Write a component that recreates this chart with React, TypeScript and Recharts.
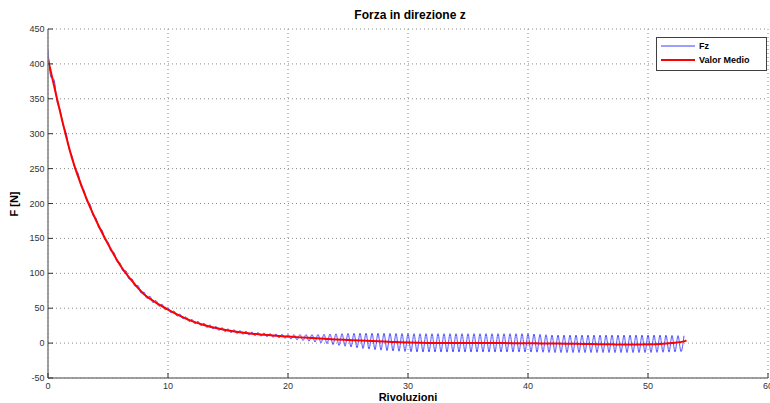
import React from 'react';
import { LineChart, Line, XAxis, YAxis, CartesianGrid } from 'recharts';

// Red "Valor Medio" curve, read at each revolution
const meanRev = [0, 1, 2, 3, 4, 5, 6, 7, 8, 9, 10, 11, 12, 13, 14, 15, 16, 17, 18, 19, 20, 21, 22, 23, 24, 25, 26, 27, 28, 29, 30, 31, 32, 33, 34, 35, 36, 37, 38, 39, 40, 41, 42, 43, 44, 45, 46, 47, 48, 49, 50, 51, 52, 53, 53.2];
const valorMedio = [407, 332, 265, 216, 176, 142, 112, 89, 70, 58, 48, 39, 31.5, 26, 21.5, 18, 15.5, 13.5, 12, 10.5, 9.3, 8.2, 7.2, 6.2, 5.3, 4.5, 3.7, 3, 2.2, 1.5, 0.8, 0.4, 0.2, 0, 0, 0, 0, 0, 0, -0.1, -0.2, -0.4, -0.6, -0.8, -1, -1.3, -1.6, -1.8, -2, -2, -1.8, -1.2, 0.2, 2.5, 4];

// Blue "Fz" oscillation: crest and trough levels read per revolution (0..53)
const fzUpper = [420, 335, 268, 219, 179, 145, 115, 92, 73, 61, 50.5, 41.5, 34, 28.5, 24, 20.5, 18, 16, 14.5, 13, 12.3, 12.2, 12.2, 12.7, 13.3, 13.7, 14, 14, 14, 13.8, 13.6, 13.5, 13.5, 13.5, 13.5, 13.5, 13.5, 13.5, 13.5, 13.5, 13.5, 12.5, 11.5, 11.5, 11.5, 11.5, 11.5, 11.5, 11.5, 11.5, 11.5, 11.5, 11, 10.5];
const fzLower = [398, 329, 262, 213, 173, 139, 109, 86, 67, 55, 45.5, 36.5, 29, 23.5, 19, 15.5, 13, 11, 9.5, 8, 6.3, 4.2, 2.2, -0.3, -2.7, -5, -7.3, -9, -10.5, -11.5, -12.2, -12.8, -12.8, -12.8, -12.8, -12.8, -12.8, -12.8, -12.8, -12.8, -12.8, -13, -13.5, -13.5, -13.5, -13.5, -13.5, -13.5, -13.5, -13.5, -13.5, -13.2, -12.8, -12];
const cyclesPerRev = 2;

const xTicks = [0, 10, 20, 30, 40, 50, 60];
const yTicks = [-50, 0, 50, 100, 150, 200, 250, 300, 350, 400, 450];

const meanData = meanRev.map((x, i) => ({ x, y: valorMedio[i] }));

const fzData: { x: number; fz: number }[] = [];
{
  const steps = (fzUpper.length - 1) * cyclesPerRev * 2;
  for (let k = 0; k <= steps; k++) {
    const x = k / (cyclesPerRev * 2);
    const i = Math.min(Math.floor(x), fzUpper.length - 2);
    const f = x - i;
    const env = k % 2 === 0 ? fzUpper : fzLower;
    fzData.push({ x, fz: env[i] * (1 - f) + env[i + 1] * f });
  }
}

const FONT = '"Liberation Sans", Arial, Helvetica, sans-serif';

const XTick = (props: any) => {
  const { x, y, payload } = props;
  const ay = y - 4;
  return (
    <g>
      <line x1={x} x2={x} y1={ay} y2={ay - 5} stroke="#333" strokeWidth={1} />
      <text x={x} y={y + 7} textAnchor="middle" fontSize={9} fill="#333" fontFamily={FONT}>
        {payload.value}
      </text>
    </g>
  );
};

const YTick = (props: any) => {
  const { x, y, payload } = props;
  const ax = x + 4;
  return (
    <g>
      <line x1={ax} x2={ax + 5} y1={y} y2={y} stroke="#333" strokeWidth={1} />
      <text x={x + 0.5} y={y + 3} textAnchor="end" fontSize={9} fill="#333" fontFamily={FONT}>
        {payload.value}
      </text>
    </g>
  );
};

export default function App() {
  return (
    <div style={{ position: 'fixed', left: 0, top: 0, width: 770, height: 403, background: '#fff', fontFamily: FONT }}>
      <LineChart width={770} height={403} margin={{ top: 29, right: 2, bottom: 5, left: 8 }}>
        <CartesianGrid stroke="#8a8a8a" strokeDasharray="1 3" />
        <XAxis
          type="number"
          dataKey="x"
          domain={[0, 60]}
          ticks={xTicks}
          interval={0}
          allowDataOverflow
          height={20}
          tickSize={0}
          tickMargin={4}
          tickLine={false}
          axisLine={{ stroke: '#808080', strokeWidth: 1.5 }}
          tick={<XTick />}
        />
        <YAxis
          type="number"
          domain={[-50, 450]}
          ticks={yTicks}
          interval={0}
          allowDataOverflow
          width={40}
          tickSize={0}
          tickMargin={4}
          tickLine={false}
          axisLine={{ stroke: '#808080', strokeWidth: 1.5 }}
          tick={<YTick />}
        />
        <Line data={fzData} dataKey="fz" type="monotone" stroke="#3c3cff" strokeWidth={0.9} dot={false} isAnimationActive={false} />
        <Line data={meanData} dataKey="y" type="monotone" stroke="#ff0000" strokeWidth={2} dot={false} isAnimationActive={false} />
      </LineChart>
      <svg width={770} height={403} style={{ position: 'absolute', left: 0, top: 0, pointerEvents: 'none' }}>
        <text x={410} y={19} textAnchor="middle" fontSize={12} fontWeight="bold" fontFamily={FONT} fill="#000">
          Forza in direzione z
        </text>
        <text x={408} y={401} textAnchor="middle" fontSize={11} fontWeight="bold" fontFamily={FONT} fill="#000">
          Rivoluzioni
        </text>
        <text x={0} y={0} transform="translate(18,204) rotate(-90)" textAnchor="middle" fontSize={11} fontWeight="bold" fontFamily={FONT} fill="#000">
          F [N]
        </text>
        <rect x={656.5} y={37.5} width={110} height={33} fill="#fff" stroke="#404040" strokeWidth={1} />
        <line x1={661} x2={695} y1={46} y2={46} stroke="#3c3cff" strokeWidth={1} />
        <text x={699} y={49} fontSize={9} fontWeight="bold" fontFamily={FONT} fill="#000">Fz</text>
        <line x1={661} x2={695} y1={60} y2={60} stroke="#ff0000" strokeWidth={2} />
        <text x={699} y={63} fontSize={9} fontWeight="bold" fontFamily={FONT} fill="#000">Valor Medio</text>
      </svg>
    </div>
  );
}
